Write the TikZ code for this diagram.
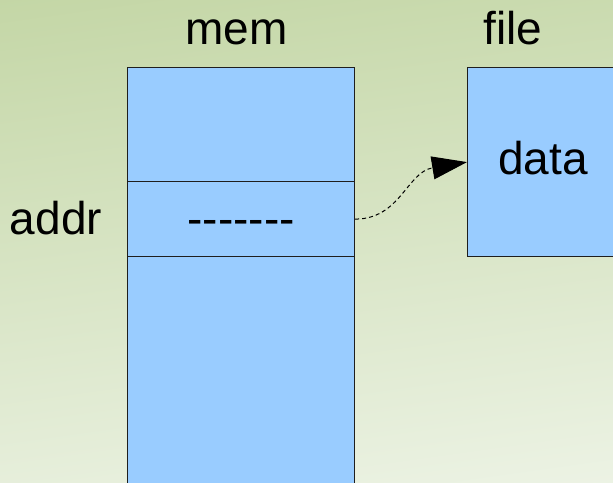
\documentclass[tikz,border=0pt]{standalone}
\usepackage{fontspec}
\setmainfont{Liberation Sans}
\usetikzlibrary{arrows.meta}
\definecolor{bggreen}{RGB}{194,213,163}
\definecolor{bgmid}{RGB}{216,229,196}
\definecolor{bgpale}{RGB}{238,244,231}
\definecolor{cellblue}{RGB}{153,204,255}
\definecolor{edgegray}{RGB}{30,30,30}

\begin{document}
\begin{tikzpicture}[x=1pt,y=1pt,
  cell/.style={draw=edgegray, line width=1.2pt, fill=cellblue, rectangle,
    inner sep=0pt, anchor=north west, minimum width=227pt},
  caption/.style={font=\fontsize{46}{50}\selectfont, anchor=base, inner sep=0pt},
  link/.style={draw=black, line width=1pt, dash pattern=on 4pt off 3pt,
    -{Triangle[length=35pt,width=23pt]}}]
\useasboundingbox (0,0) rectangle (613,482);
\clip (0,0) rectangle (613,482);
% backdrop: green at the top fading to pale at the bottom
\shade[top color=bggreen, middle color=bgmid, bottom color=bgpale, shading angle=8]
  (-60,-60) rectangle (673,542);

% memory column: upper block, addressed slot, lower block
\node[cell, minimum height=114pt] (memtop) at (127,415) {};
\node[cell, minimum height=75pt] (memaddr) at (127,301) {};
\node[cell, minimum height=260pt] (membot) at (127,226) {};
% file block
\node[cell, minimum width=170pt, minimum height=189pt] (file) at (467,415) {};

% labels
\node[caption] (memlabel) at (236.5,437) {mem};
\node[caption] (filelabel) at (513,437) {file};
\node[caption] (datatext) at (543,307) {data};
\node[caption] (addrlabel) at (56,247) {addr};
\node[caption] (pointer) at (memaddr.center |- addrlabel.base) {-{}-{}-{}-{}-{}-{}-};

% mapping from the slot to the file data
\draw[link] (memaddr.east) .. controls +(45,0) and +(-60,-10) .. (file.west);
\end{tikzpicture}
\end{document}
